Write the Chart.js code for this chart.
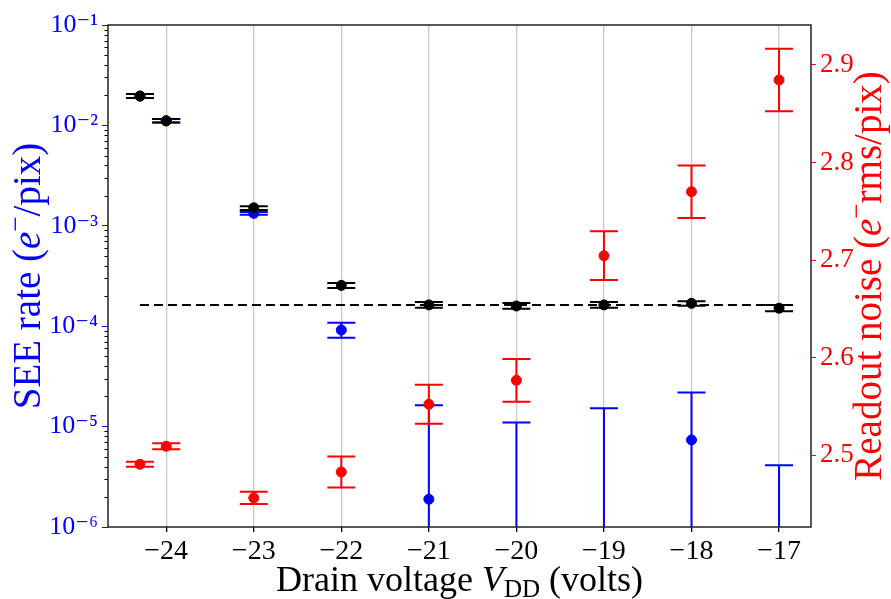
<!DOCTYPE html>
<html>
<head>
<meta charset="utf-8">
<script src="https://cdn.jsdelivr.net/npm/chart.js@4.4.1/dist/chart.umd.min.js"></script>
<style>
  html, body { margin: 0; padding: 0; background: #fff; }
</style>
</head>
<body>
<canvas id="chart" width="891" height="599"></canvas>
<script>
// ── Data ──
const voltages = [-24.3, -24, -23, -22, -21, -20, -19, -18, -17];
const xTicks = [-24, -23, -22, -21, -20, -19, -18, -17];

// SEE rate, all events (black)
const seeTotal   = [1.96e-2, 1.11e-2, 1.51e-3, 2.55e-4, 1.63e-4, 1.59e-4, 1.63e-4, 1.69e-4, 1.51e-4];
const seeTotalLo = [1.87e-2, 1.07e-2, 1.44e-3, 2.40e-4, 1.53e-4, 1.49e-4, 1.53e-4, 1.60e-4, 1.41e-4];
const seeTotalHi = [2.06e-2, 1.16e-2, 1.57e-3, 2.69e-4, 1.74e-4, 1.70e-4, 1.74e-4, 1.77e-4, 1.63e-4];

// SEE rate, cleaned (blue); null = point below the axis, lower bound 0
const seeClean   = [1.96e-2, 1.11e-2, 1.33e-3, 9.16e-5, 1.89e-6, null, null, 7.36e-6, null];
const seeCleanLo = [1.87e-2, 1.07e-2, 1.29e-3, 7.67e-5, 0, 0, 0, 0, 0];
const seeCleanHi = [2.06e-2, 1.16e-2, 1.37e-3, 1.08e-4, 1.63e-5, 1.10e-5, 1.52e-5, 2.18e-5, 4.12e-6];

// Readout noise (red)
const noise    = [2.4905, 2.509, 2.456, 2.4826, 2.552, 2.5766, 2.7044, 2.770, 2.8846];
const noiseErr = [0.0026, 0.003, 0.0063, 0.016, 0.020, 0.022, 0.025, 0.027, 0.032];

const seeMean = 1.63e-4;
const seeTicks = [1e-6, 1e-5, 1e-4, 1e-3, 1e-2, 1e-1];
const noiseTicks = [2.5, 2.6, 2.7, 2.8, 2.9];

const BLUE = "#0000ff";
const RED = "#ff0000";
const BLACK = "#000000";
const SERIF = '"Liberation Serif", "DejaVu Serif", serif';

const SUP = { "-": "\u207b", "0": "\u2070", "1": "\u00b9", "2": "\u00b2", "3": "\u00b3",
              "4": "\u2074", "5": "\u2075", "6": "\u2076", "7": "\u2077", "8": "\u2078", "9": "\u2079" };

function decadeLabel(v) {
  const e = String(Math.round(Math.log10(v)));
  return "10" + e.split("").map(function (c) { return SUP[c]; }).join("");
}

function points(ys) {
  return voltages.map(function (x, i) { return { x: x, y: ys[i] }; });
}

// ── Error bars (drawn under the markers) ──
const errorSets = [
  { axis: "y", color: BLUE, lo: seeCleanLo, hi: seeCleanHi },
  { axis: "y", color: BLACK, lo: seeTotalLo, hi: seeTotalHi },
  { axis: "y2", color: RED,
    lo: noise.map(function (v, i) { return v - noiseErr[i]; }),
    hi: noise.map(function (v, i) { return v + noiseErr[i]; }) },
];

const errorBarPlugin = {
  id: "errorBars",
  beforeDatasetsDraw: function (chart) {
    const ctx = chart.ctx;
    const area = chart.chartArea;
    const xs = chart.scales.x;
    ctx.save();
    ctx.beginPath();
    ctx.rect(area.left, area.top, area.right - area.left, area.bottom - area.top);
    ctx.clip();
    errorSets.forEach(function (set) {
      const ys = chart.scales[set.axis];
      ctx.strokeStyle = set.color;
      ctx.lineWidth = 2;
      voltages.forEach(function (v, i) {
        const px = xs.getPixelForValue(v);
        // a zero lower bound on the log axis runs off the bottom, with no cap
        const open = set.axis === "y" && !(set.lo[i] > 0);
        const yl = open ? area.bottom + 10 : ys.getPixelForValue(set.lo[i]);
        const yh = ys.getPixelForValue(set.hi[i]);
        ctx.beginPath();
        ctx.moveTo(px, yl); ctx.lineTo(px, yh);
        if (!open) { ctx.moveTo(px - 14, yl); ctx.lineTo(px + 14, yl); }
        ctx.moveTo(px - 14, yh); ctx.lineTo(px + 14, yh);
        ctx.stroke();
      });
    });
    ctx.restore();
  },
};

// ── Frame, minor ticks and titles ──
function drawRich(ctx, parts, cx, cy, rot, color) {
  ctx.save();
  ctx.translate(cx, cy);
  ctx.rotate(rot);
  ctx.fillStyle = color;
  ctx.textBaseline = "alphabetic";
  let total = 0;
  parts.forEach(function (p) { ctx.font = p.font; p.w = ctx.measureText(p.t).width; total += p.w; });
  let x = -total / 2;
  parts.forEach(function (p) { ctx.font = p.font; ctx.fillText(p.t, x, p.dy || 0); x += p.w; });
  ctx.restore();
}

function fonts(S) {
  return {
    f: S + "px " + SERIF,
    fi: "italic " + S + "px " + SERIF,
    fs: Math.round(S * 0.7) + "px " + SERIF,
  };
}

const decorPlugin = {
  id: "decor",
  afterDraw: function (chart) {
    const ctx = chart.ctx;
    const a = chart.chartArea;
    const ys = chart.scales.y;

    // minor ticks on the log axis
    ctx.save();
    ctx.strokeStyle = BLACK;
    ctx.lineWidth = 1;
    for (let d = -6; d < -1; d++) {
      for (let k = 2; k <= 9; k++) {
        const py = Math.round(ys.getPixelForValue(k * Math.pow(10, d))) + 0.5;
        ctx.beginPath();
        ctx.moveTo(a.left - 3.5, py); ctx.lineTo(a.left, py);
        ctx.stroke();
      }
    }
    // frame
    ctx.strokeStyle = "#222";
    ctx.lineWidth = 1.5;
    ctx.strokeRect(a.left, a.top, a.right - a.left, a.bottom - a.top);
    ctx.restore();

    const midY = (a.top + a.bottom) / 2;
    const xf = fonts(36);
    drawRich(ctx, [
      { t: "Drain voltage ", font: xf.f },
      { t: "V", font: xf.fi },
      { t: "DD", font: xf.fs, dy: 36 * 0.18 },
      { t: " (volts)", font: xf.f },
    ], (a.left + a.right) / 2, 591, 0, BLACK);

    const YS = 39;
    const yf = fonts(YS);
    drawRich(ctx, [
      { t: "SEE rate (", font: yf.f },
      { t: "e", font: yf.fi },
      { t: "\u2212", font: yf.fs, dy: -YS * 0.4 },
      { t: "/pix)", font: yf.f },
    ], 40, midY, -Math.PI / 2, BLUE);

    drawRich(ctx, [
      { t: "Readout noise (", font: yf.f },
      { t: "e", font: yf.fi },
      { t: "\u2212", font: yf.fs, dy: -YS * 0.4 },
      { t: "rms/pix)", font: yf.f },
    ], 881, midY, -Math.PI / 2, RED);
  },
};

new Chart(document.getElementById("chart"), {
  type: "scatter",
  data: {
    datasets: [
      { data: points(noise), yAxisID: "y2", backgroundColor: RED, borderColor: RED,
        pointRadius: 5, pointHoverRadius: 5 },
      { data: points(seeTotal), yAxisID: "y", backgroundColor: BLACK, borderColor: BLACK,
        pointRadius: 5, pointHoverRadius: 5 },
      { data: points(seeClean), yAxisID: "y", backgroundColor: BLUE, borderColor: BLUE,
        pointRadius: 5, pointHoverRadius: 5 },
      { type: "line", data: [{ x: voltages[0], y: seeMean }, { x: voltages[voltages.length - 1], y: seeMean }],
        yAxisID: "y", borderColor: BLACK, borderWidth: 2, borderDash: [9, 5], pointRadius: 0, fill: false },
    ],
  },
  options: {
    responsive: false,
    animation: false,
    layout: { padding: { top: 25, left: 0, right: 0, bottom: 0 } },
    plugins: { legend: { display: false }, tooltip: { enabled: false } },
    scales: {
      x: {
        type: "linear",
        min: -24.665,
        max: -16.635,
        afterBuildTicks: function (s) { s.ticks = xTicks.map(function (v) { return { value: v }; }); },
        afterFit: function (s) { s.height = 72; },
        grid: { color: "#c8c8c8", lineWidth: 1.3, tickColor: BLACK, tickLength: 5, drawTicks: true },
        border: { display: false },
        ticks: {
          color: BLACK, padding: 3, maxRotation: 0,
          font: { family: SERIF, size: 28 },
          callback: function (v) { return "\u2212" + Math.abs(v); },
        },
      },
      y: {
        type: "logarithmic",
        position: "left",
        min: 1e-6,
        max: 1e-1,
        afterBuildTicks: function (s) { s.ticks = seeTicks.map(function (v) { return { value: v }; }); },
        afterFit: function (s) { s.width = 108; },
        grid: { drawOnChartArea: false, tickColor: BLUE, tickLength: 6 },
        border: { display: false },
        ticks: {
          color: BLUE, padding: 4,
          font: { family: SERIF, size: 26 },
          callback: function (v) { return decadeLabel(v); },
        },
      },
      y2: {
        type: "linear",
        position: "right",
        min: 2.4262,
        max: 2.941,
        afterBuildTicks: function (s) { s.ticks = noiseTicks.map(function (v) { return { value: v }; }); },
        afterFit: function (s) { s.width = 80; },
        grid: { drawOnChartArea: false, tickColor: RED, tickLength: 5 },
        border: { display: false },
        ticks: {
          color: RED, padding: 4,
          font: { family: SERIF, size: 27 },
          callback: function (v) { return v.toFixed(1); },
        },
      },
    },
  },
  plugins: [errorBarPlugin, decorPlugin],
});
</script>
</body>
</html>
